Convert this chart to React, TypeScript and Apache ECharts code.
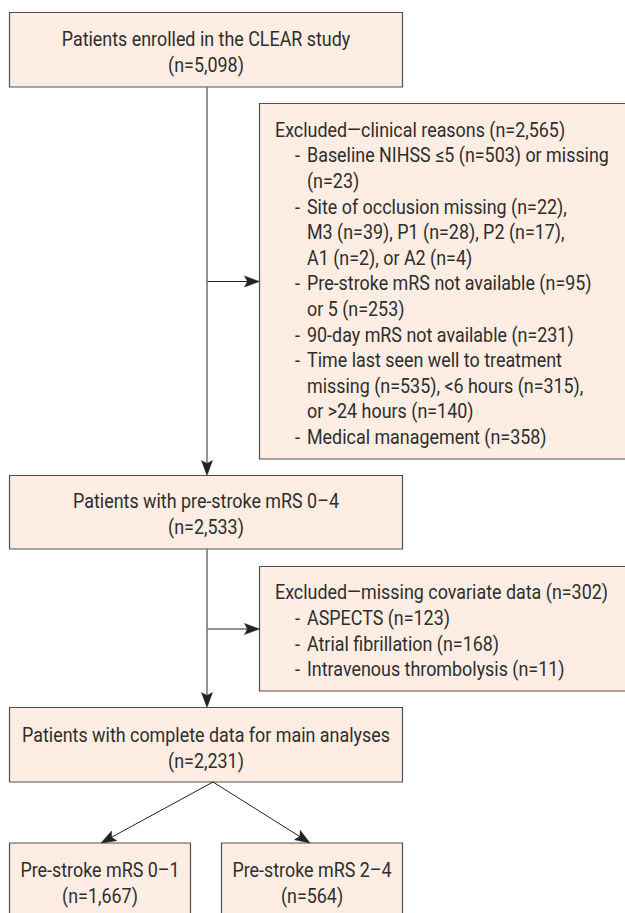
import React, { useEffect, useRef } from "react";
import * as echarts from "echarts";

// ---- content ----
const boxTitles = [
  "Patients enrolled in the CLEAR study",
  "Patients with pre-stroke mRS 0–4",
  "Patients with complete data for main analyses",
  "Pre-stroke mRS 0–1",
  "Pre-stroke mRS 2–4",
];
const boxCounts = ["5,098", "2,533", "2,231", "1,667", "564"];

const exclusionClinical = [
  "Excluded—clinical reasons (n=2,565)",
  "- Baseline NIHSS ≤5 (n=503) or missing",
  "(n=23)",
  "- Site of occlusion missing (n=22),",
  "M3 (n=39), P1 (n=28), P2 (n=17),",
  "A1 (n=2), or A2 (n=4)",
  "- Pre-stroke mRS not available (n=95)",
  "or 5 (n=253)",
  "- 90-day mRS not available (n=231)",
  "- Time last seen well to treatment",
  "missing (n=535), <6 hours (n=315),",
  "or >24 hours (n=140)",
  "- Medical management (n=358)",
];
const exclusionCovariate = [
  "Excluded—missing covariate data (n=302)",
  "- ASPECTS (n=123)",
  "- Atrial fibrillation (n=168)",
  "- Intravenous thrombolysis (n=11)",
];

// ---- layout ----
const FONT = "Roboto, 'Noto Sans', sans-serif";
const FS = 20;
const SCALE_X = 0.895;
const LINE_H = 25.6;
const FILL = "#fdede2";
const BORDER = "#505050";
const TEXT = "#2e2e2e";
const ARROW = "#222222";

const mainBoxes = [
  { x1: 9.5, y1: 12.5, x2: 402.5, y2: 87, ty: 39 },
  { x1: 9.5, y1: 475.5, x2: 402.5, y2: 549, ty: 501.5 },
  { x1: 9.5, y1: 707.5, x2: 402.5, y2: 782, ty: 735 },
  { x1: 9.5, y1: 843, x2: 190.5, y2: 930, ty: 870 },
  { x1: 221.5, y1: 843, x2: 402.5, y2: 930, ty: 870 },
];
const exclBoxes = [
  { x1: 259.5, y1: 103.5, x2: 640, y2: 459, ty: 130, arrowY: 281.5, lines: exclusionClinical },
  { x1: 259.5, y1: 566.5, x2: 640, y2: 691, ty: 592.5, arrowY: 629, lines: exclusionCovariate },
];
const SPINE_X = 207;
const HEAD_X = 275;
const DASH_X = 295;
const INDENT_X = 307;

function arrowHead(tipX: number, tipY: number, fromX: number, fromY: number, len = 15, half = 5.5) {
  const dx = tipX - fromX;
  const dy = tipY - fromY;
  const d = Math.hypot(dx, dy);
  const ux = dx / d;
  const uy = dy / d;
  const px = -uy;
  const py = ux;
  const bx = tipX - ux * len;
  const by = tipY - uy * len;
  const nx = tipX - ux * (len - 3);
  const ny = tipY - uy * (len - 3);
  return {
    type: "polygon",
    shape: {
      points: [
        [tipX, tipY],
        [bx + px * half, by + py * half],
        [nx, ny],
        [bx - px * half, by - py * half],
      ],
    },
    style: { fill: ARROW, stroke: ARROW, lineWidth: 0.5 },
    z: 10,
  };
}

function txt(text: string, x: number, y: number, align: string) {
  return {
    type: "text",
    x,
    y,
    scaleX: SCALE_X,
    style: {
      text,
      x: 0,
      y: 0,
      fill: TEXT,
      font: `${FS}px ${FONT}`,
      fontSize: FS,
      fontFamily: FONT,
      align,
      textAlign: align,
      verticalAlign: "middle",
      textVerticalAlign: "middle",
    },
    z: 20,
  };
}

function rect(b: { x1: number; y1: number; x2: number; y2: number }) {
  return {
    type: "rect",
    shape: { x: b.x1, y: b.y1, width: b.x2 - b.x1, height: b.y2 - b.y1 },
    style: { fill: FILL, stroke: BORDER, lineWidth: 1.2 },
    z: 1,
  };
}

function buildElements() {
  const els: any[] = [];
  mainBoxes.forEach((b, i) => {
    els.push(rect(b));
    const cx = (b.x1 + b.x2) / 2;
    els.push(txt(boxTitles[i], cx, b.ty, "center"));
    els.push(txt(`(n=${boxCounts[i]})`, cx, b.ty + 26, "center"));
  });
  exclBoxes.forEach((b) => {
    els.push(rect(b));
    b.lines.forEach((line, j) => {
      const y = b.ty + j * LINE_H;
      if (j === 0) {
        els.push(txt(line, HEAD_X, y, "left"));
      } else if (line.startsWith("- ")) {
        els.push(txt("-", DASH_X, y, "left"));
        els.push(txt(line.slice(2), INDENT_X, y, "left"));
      } else {
        els.push(txt(line, INDENT_X, y, "left"));
      }
    });
    els.push({
      type: "line",
      shape: { x1: SPINE_X, y1: b.arrowY, x2: b.x1 - 10, y2: b.arrowY },
      style: { stroke: ARROW, lineWidth: 1.2 },
      z: 5,
    });
    els.push(arrowHead(b.x1, b.arrowY, SPINE_X, b.arrowY));
  });
  const spines = [
    [mainBoxes[0].y2, mainBoxes[1].y1],
    [mainBoxes[1].y2, mainBoxes[2].y1],
  ];
  spines.forEach(([a, c]) => {
    els.push({
      type: "line",
      shape: { x1: SPINE_X, y1: a, x2: SPINE_X, y2: c - 10 },
      style: { stroke: "#777777", lineWidth: 1.6 },
      z: 5,
    });
    els.push(arrowHead(SPINE_X, c, SPINE_X, a));
  });
  const origin = { x: 213, y: mainBoxes[2].y2 };
  const tips = [
    { x: 101, y: mainBoxes[3].y1 },
    { x: 310, y: mainBoxes[4].y1 },
  ];
  tips.forEach((t) => {
    const dx = t.x - origin.x;
    const dy = t.y - origin.y;
    const d = Math.hypot(dx, dy);
    els.push({
      type: "line",
      shape: { x1: origin.x, y1: origin.y, x2: t.x - (dx / d) * 10, y2: t.y - (dy / d) * 10 },
      style: { stroke: ARROW, lineWidth: 1 },
      z: 5,
    });
    els.push(arrowHead(t.x, t.y, origin.x, origin.y));
  });
  return els;
}

export default function App() {
  const ref = useRef<HTMLDivElement>(null);
  useEffect(() => {
    if (!ref.current) return;
    const chart = echarts.init(ref.current, null, { renderer: "svg" });
    chart.setOption({
      animation: false,
      backgroundColor: "#ffffff",
      graphic: { elements: buildElements() },
    });
    return () => chart.dispose();
  }, []);
  return (
    <div
      ref={ref}
      style={{ position: "fixed", left: 0, top: 0, width: 625, height: 913, background: "#fff" }}
    />
  );
}
